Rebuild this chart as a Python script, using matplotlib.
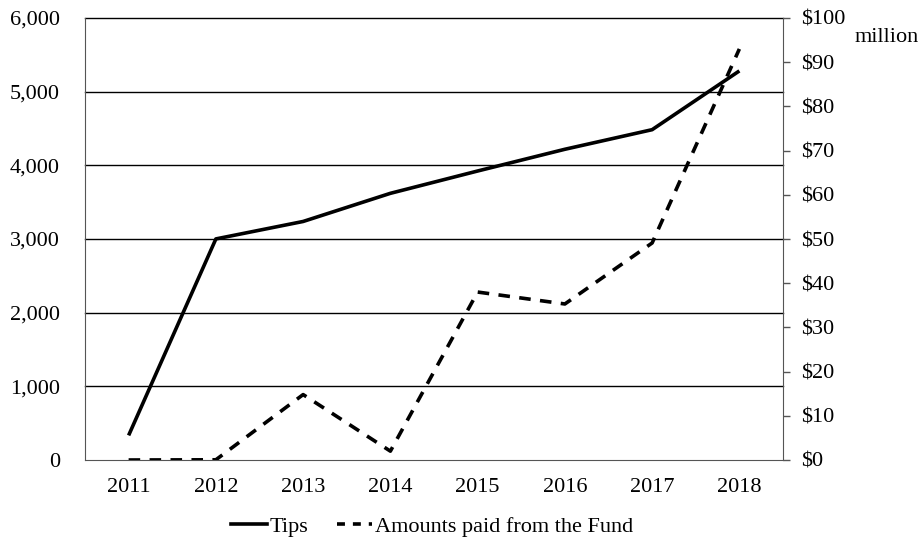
import matplotlib
matplotlib.use("Agg")
import matplotlib.pyplot as plt
from matplotlib.lines import Line2D

years = ["2011", "2012", "2013", "2014", "2015", "2016", "2017", "2018"]
tips = [334, 3001, 3238, 3620, 3923, 4218, 4484, 5282]
fund_millions = [0.0, 0.05, 14.8, 2.0, 38.0, 35.3, 49.1, 93.0]
left_ticks = [0, 1000, 2000, 3000, 4000, 5000, 6000]
right_ticks = [0, 10, 20, 30, 40, 50, 60, 70, 80, 90, 100]

plt.rcParams['font.family'] = ['Liberation Serif', 'DejaVu Serif']
fs = 16

fig = plt.figure(figsize=(9.23, 5.43), dpi=100)
ax = fig.add_axes([85/923, 1-460/543, (783-85)/923, (460-18)/543])
x = list(range(len(years)))

ax.set_xlim(-0.5, len(years)-0.5)
ax.set_ylim(0, 6000)
ax.set_yticks(left_ticks)
ax.set_yticklabels([f"{v:,}" for v in left_ticks], fontsize=fs)
ax.set_xticks(x)
ax.set_xticklabels(years, fontsize=fs)
ax.tick_params(axis='x', length=0, pad=13)
ax.tick_params(axis='y', length=0, pad=18)
for v in left_ticks[1:]:
    ax.axhline(v, color='black', lw=1.0, zorder=1, clip_on=False)
ax.spines['top'].set_visible(False)
ax.spines['left'].set_color('#555555')
ax.spines['bottom'].set_color('#555555')
ax.spines['right'].set_visible(False)

ax.plot(x, tips, color='black', lw=2.6, solid_capstyle='butt', zorder=3)

ax2 = ax.twinx()
ax2.set_ylim(0, 100)
ax2.set_yticks(right_ticks)
ax2.set_yticklabels([f"${v}" for v in right_ticks], fontsize=fs)
ax2.tick_params(axis='y', length=5, width=1, color='#555555', pad=8, direction='out')
for s in ['top', 'left', 'bottom']:
    ax2.spines[s].set_visible(False)
ax2.spines['right'].set_color('#555555')
ax2.plot(x, fund_millions, color='black', lw=2.6, ls=(0, (3.2, 2.6)), zorder=3)

fig.text(855/923, 1-38/543, "million", fontsize=fs, ha='left', va='center')

handles = [Line2D([], [], color='black', lw=2.6),
           Line2D([], [], color='black', lw=2.6, ls=(0, (2.2, 2.2)))]
fig.legend(handles, ["Tips", "Amounts paid from the Fund"], loc='center',
           bbox_to_anchor=(432/923, 1-527/543), ncol=2, frameon=False,
           fontsize=fs, handlelength=1.6, handletextpad=0.1, columnspacing=1.3)

fig.savefig("out.png", dpi=100, facecolor='white')
